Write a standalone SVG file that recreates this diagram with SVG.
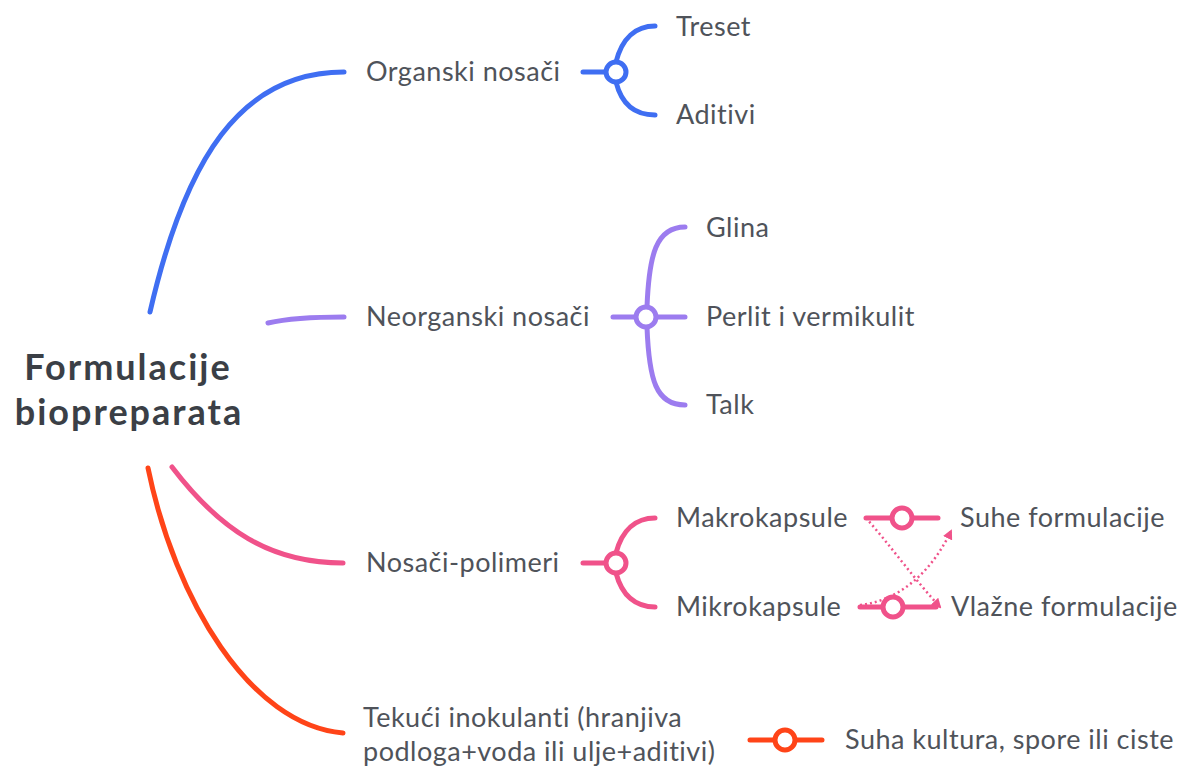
<svg xmlns="http://www.w3.org/2000/svg" width="1183" height="769" viewBox="0 0 1183 769">
<defs>
<style>
.t{font-family:Lato,"Noto Sans",sans-serif;font-size:27px;letter-spacing:0.5px;fill:#4f535a}
.c{font-family:Lato,"Noto Sans",sans-serif;font-size:36px;letter-spacing:2px;font-weight:bold;fill:#3b3f46}
.ln{fill:none;stroke-width:5;stroke-linecap:round}
.b{stroke:#3f6ef2}.p{stroke:#9c7cef}.k{stroke:#f0528a}.r{stroke:#ff4418}
.o{fill:#fff;stroke-width:5}
.d{fill:none;stroke:#f0528a;stroke-width:2.5;stroke-dasharray:2 3}
</style>
<marker id="ah" viewBox="0 0 10 10" refX="8" refY="5" markerWidth="4" markerHeight="4" orient="auto"><path d="M0,0 L10,5 L0,10 z" fill="#f0528a"/></marker>
</defs>
<rect width="1183" height="769" fill="#fff"/>
<g id="connectors">
<path class="ln b" d="M150,312 C185,160 240,72 344,72"/>
<path class="ln p" d="M268,323 C290,318 320,317 344,317"/>
<path class="ln k" d="M172,467 C220,530 270,563 343,563"/>
<path class="ln r" d="M148,468 C175,600 250,725 343,733"/>
<path class="ln b" d="M583,72 L606,72 M616,62 C622,38 636,26 655,26 M616,82 C622,106 636,115 655,115"/>
<circle class="o b" cx="616" cy="72" r="10"/>
<path class="ln p" d="M613,317 L636,317 M656,317 L685,317 M647,307 C649,255 656,227 685,227 M647,327 C649,380 656,405 685,405"/>
<circle class="o p" cx="646" cy="317" r="10"/>
<path class="ln k" d="M583,563 L606,563 M616,553 C622,530 636,518 655,518 M616,573 C622,596 636,607 655,607"/>
<circle class="o k" cx="616" cy="563" r="10"/>
<path class="ln k" d="M866,518 L892,518 M912,518 L938,518"/>
<circle class="o k" cx="902" cy="518" r="10"/>
<path class="ln k" d="M860,607 L883,607 M903,607 L936,607"/>
<circle class="o k" cx="893" cy="607" r="10"/>
<path class="d" d="M866,518 C890,545 915,580 940,607" marker-end="url(#ah)"/>
<path class="d" d="M860,605 C905,600 935,565 951,531" marker-end="url(#ah)"/>
<path class="ln r" d="M750,740 L775,740 M795,740 L822,740"/>
<circle class="o r" cx="785" cy="740" r="10"/>
</g>
<g id="root"><text class="c" x="128" y="380" text-anchor="middle">Formulacije</text><text class="c" x="129" y="425" text-anchor="middle">biopreparata</text></g>
<g id="organski"><text class="t" x="366" y="81">Organski nosači</text></g>
<g id="treset"><text class="t" x="676" y="36">Treset</text></g>
<g id="aditivi"><text class="t" x="676" y="124">Aditivi</text></g>
<g id="neorganski"><text class="t" x="366" y="326">Neorganski nosači</text></g>
<g id="glina"><text class="t" x="706" y="237">Glina</text></g>
<g id="perlit"><text class="t" x="706" y="326">Perlit i vermikulit</text></g>
<g id="talk"><text class="t" x="706" y="414">Talk</text></g>
<g id="polimeri"><text class="t" x="366" y="572">Nosači-polimeri</text></g>
<g id="makro"><text class="t" x="676" y="527">Makrokapsule</text></g>
<g id="mikro"><text class="t" x="676" y="616">Mikrokapsule</text></g>
<g id="suhe"><text class="t" x="960" y="527">Suhe formulacije</text></g>
<g id="vlazne"><text class="t" x="951" y="616">Vlažne formulacije</text></g>
<g id="tekuci"><text class="t" x="363" y="727">Tekući inokulanti (hranjiva</text><text class="t" x="363" y="761">podloga+voda ili ulje+aditivi)</text></g>
<g id="suha"><text class="t" x="845" y="749">Suha kultura, spore ili ciste</text></g>
</svg>
